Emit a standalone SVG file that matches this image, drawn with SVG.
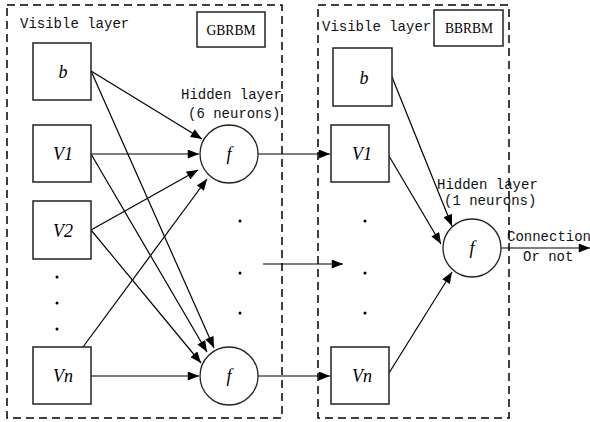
<svg xmlns="http://www.w3.org/2000/svg" width="590" height="422" viewBox="0 0 590 422">
<defs>
<marker id="ah" viewBox="0 0 10 8" refX="10" refY="4" markerWidth="12" markerHeight="9" markerUnits="userSpaceOnUse" orient="auto">
<path d="M0,0 L10,4 L0,8 z" fill="#000"/>
</marker>
</defs>
<style>
.frame{fill:none;stroke:#000;stroke-width:1.5;stroke-dasharray:8,5}
.box{fill:#fff;stroke:#222;stroke-width:1.5}
.node{fill:#fff;stroke:#222;stroke-width:1.3}
.lbl{font-family:"Liberation Serif",serif;font-style:italic;font-size:18px;text-anchor:middle}
.mono{font-family:"Liberation Mono","DejaVu Sans Mono",monospace;font-size:14px;fill:#111}
.tag{font-family:"Liberation Serif",serif;font-size:15px;text-anchor:middle}
.conn line{stroke:#000;stroke-width:1.2;marker-end:url(#ah)}
.dot{fill:#000}
</style>
<rect width="590" height="422" fill="#fff"/>
<g id="gbrbm-frame">
<rect class="frame" x="7" y="5" width="275" height="413"/>
<text class="mono" x="20" y="28">Visible layer</text>
<rect class="box" x="197" y="12" width="68" height="35"/>
<text class="tag" x="231" y="35" textLength="49" lengthAdjust="spacingAndGlyphs">GBRBM</text>
<text class="mono" x="181" y="99">Hidden layer</text>
<text class="mono" x="188" y="118">(6 neurons)</text>
</g>
<g id="bbrbm-frame">
<rect class="frame" x="318" y="5" width="191" height="413"/>
<text class="mono" x="322" y="31">Visible layer</text>
<rect class="box" x="434" y="10" width="69" height="36"/>
<text class="tag" x="469" y="33" textLength="48" lengthAdjust="spacingAndGlyphs">BBRBM</text>
<text class="mono" x="437" y="189">Hidden layer</text>
<text class="mono" x="444" y="205">(1 neurons)</text>
<text class="mono" x="507" y="241">Connection</text>
<text class="mono" x="523" y="261">Or not</text>
</g>
<g id="conn" class="conn">
<line x1="91" y1="71" x2="202" y2="139"/>
<line x1="91" y1="71" x2="214" y2="348"/>
<line x1="91" y1="154" x2="199" y2="154"/>
<line x1="91" y1="154" x2="207" y2="352"/>
<line x1="91" y1="230" x2="198" y2="170"/>
<line x1="91" y1="230" x2="201" y2="363"/>
<line x1="83" y1="347" x2="207" y2="179"/>
<line x1="91" y1="376" x2="199" y2="376"/>
<line x1="258" y1="154" x2="330" y2="154"/>
<line x1="263" y1="264" x2="343" y2="264"/>
<line x1="258" y1="376" x2="330" y2="376"/>
<line x1="392" y1="77" x2="452" y2="226"/>
<line x1="389" y1="156" x2="441" y2="244"/>
<line x1="389" y1="373" x2="452" y2="272"/>
<line x1="501" y1="248" x2="590" y2="248"/>
</g>
<g id="L-b"><rect class="box" x="33" y="43" width="58" height="57"/><text class="lbl" x="63" y="78">b</text></g>
<g id="L-v1"><rect class="box" x="33" y="125" width="58" height="57"/><text class="lbl" x="63" y="160">V1</text></g>
<g id="L-v2"><rect class="box" x="33" y="201" width="58" height="58"/><text class="lbl" x="63" y="237">V2</text></g>
<g id="L-dots"><circle class="dot" cx="57" cy="277" r="1.5"/><circle class="dot" cx="57" cy="303" r="1.5"/><circle class="dot" cx="57" cy="329" r="1.5"/></g>
<g id="L-vn"><rect class="box" x="33" y="347" width="58" height="57"/><text class="lbl" x="63" y="382">Vn</text></g>
<g id="H-top"><circle class="node" cx="229" cy="154" r="29"/><text class="lbl" x="229" y="160">f</text></g>
<g id="H-dots"><circle class="dot" cx="240" cy="221" r="1.5"/><circle class="dot" cx="240" cy="273" r="1.5"/><circle class="dot" cx="240" cy="313" r="1.5"/></g>
<g id="H-bot"><circle class="node" cx="229" cy="376" r="29"/><text class="lbl" x="229" y="382">f</text></g>
<g id="R-b"><rect class="box" x="333" y="48" width="59" height="58"/><text class="lbl" x="364" y="84">b</text></g>
<g id="R-v1"><rect class="box" x="331" y="125" width="58" height="57"/><text class="lbl" x="362" y="160">V1</text></g>
<g id="R-dots"><circle class="dot" cx="365" cy="221" r="1.5"/><circle class="dot" cx="365" cy="273" r="1.5"/><circle class="dot" cx="365" cy="313" r="1.5"/></g>
<g id="R-vn"><rect class="box" x="331" y="347" width="58" height="57"/><text class="lbl" x="362" y="382">Vn</text></g>
<g id="O"><circle class="node" cx="472" cy="248" r="29"/><text class="lbl" x="472" y="254">f</text></g>
</svg>
